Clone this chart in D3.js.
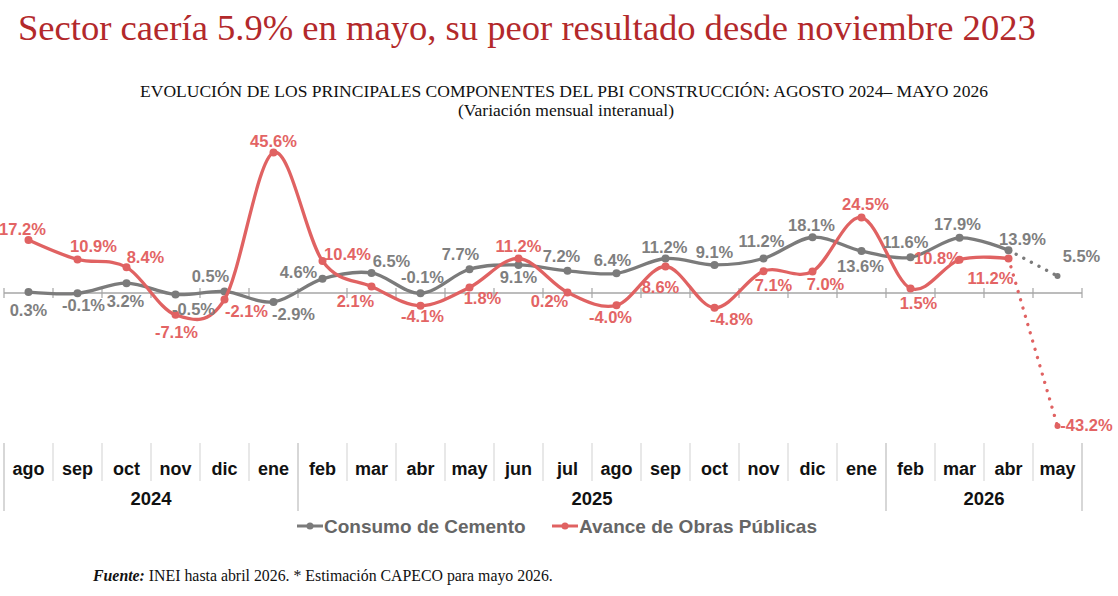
<!DOCTYPE html>
<html>
<head>
<meta charset="utf-8">
<script src="https://cdn.jsdelivr.net/npm/d3@7"></script>
<style>
  body { margin: 0; background: #fff; }
</style>
</head>
<body>
<script>
// months shown under the chart, with the year group each one falls in
var months = ["ago","sep","oct","nov","dic","ene","feb","mar","abr","may","jun","jul",
              "ago","sep","oct","nov","dic","ene","feb","mar","abr","may"];
var years = ["2024","2024","2024","2024","2024","2024",
             "2025","2025","2025","2025","2025","2025","2025","2025","2025","2025","2025","2025",
             "2026","2026","2026","2026"];

// % variation, last value of each is the CAPECO estimate (dotted)
var cemento = [0.3,-0.1,3.2,-0.5,0.5,-2.9,4.6,6.5,-0.1,7.7,9.1,7.2,6.4,11.2,9.1,11.2,18.1,13.6,11.6,17.9,13.9,5.5];
var obras = [17.2,10.9,8.4,-7.1,-2.1,45.6,10.4,2.1,-4.1,1.8,11.2,0.2,-4.0,8.6,-4.8,7.1,7.0,24.5,1.5,10.8,11.2,-43.2];

var seriesNames = ["Consumo de Cemento", "Avance de Obras Públicas"];

// label nudges [dx, dy] relative to each point
var cementoLabelOff = [[0,24],[6,18],[-1,24],[18,20],[-14,-9],[20,18],[-24,-1],[20,-6],[2,-10],[-9,-9],[0,18],[-6,-9],
                       [-4,-7],[-1,-6],[0,-7],[-2,-12],[-1,-6],[-1,21],[-5,-9],[-2,-8],[14,-5],[24,-14]];
var obrasLabelOff = [[-6,-5],[16,-7],[19,-4],[1,23],[22,18],[0,-6],[25,-1],[-16,20],[2,16],[13,17],[0,-7],[-18,15],
                     [-6,18],[-5,26],[17,17],[10,20],[13,19],[4,-8],[8,21],[-22,4],[-18,25],[29,5]];

var W = 1118, H = 596;
var gray = "#7b7b7b", red = "#e06262";
var grayText = "#7f7f7f", redText = "#e36464";

var svg = d3.select("body").append("svg")
  .attr("width", W)
  .attr("height", H)
  .style("font-family", "'Liberation Sans', Arial, sans-serif");

function fitText(sel, target) {
  var len = sel.node().getComputedTextLength();
  var fs = parseFloat(sel.attr("font-size"));
  sel.attr("font-size", (fs * target / len).toFixed(2));
}

// titles
var title = svg.append("text")
  .attr("x", 18).attr("y", 40)
  .attr("font-family", "'Liberation Serif', 'Times New Roman', serif")
  .attr("font-size", 36)
  .attr("fill", "#b3292b")
  .text("Sector caería 5.9% en mayo, su peor resultado desde noviembre 2023");
fitText(title, 1018);

var sub1 = svg.append("text")
  .attr("x", 564).attr("y", 97)
  .attr("text-anchor", "middle")
  .attr("font-family", "'Liberation Serif', 'Times New Roman', serif")
  .attr("font-size", 14)
  .attr("fill", "#111")
  .text("EVOLUCIÓN DE LOS PRINCIPALES COMPONENTES DEL PBI CONSTRUCCIÓN: AGOSTO 2024– MAYO 2026");
fitText(sub1, 848);

svg.append("text")
  .attr("x", 566).attr("y", 116)
  .attr("text-anchor", "middle")
  .attr("font-family", "'Liberation Serif', 'Times New Roman', serif")
  .attr("font-size", sub1.attr("font-size"))
  .attr("fill", "#111")
  .text("(Variación mensual interanual)");

// scales
var x = d3.scaleBand()
  .domain(d3.range(months.length))
  .range([4, 1082]);
var bw = x.bandwidth();
var cx = function(i) { return x(i) + bw / 2; };

var y = d3.scaleLinear()
  .domain([-50, 50])
  .range([447, 139]);

// zero axis with ticks at band edges
var y0 = y(0);
svg.append("line")
  .attr("x1", x.range()[0]).attr("x2", x.range()[1])
  .attr("y1", y0).attr("y2", y0)
  .attr("stroke", "#a6a6a6").attr("stroke-width", 1.5);

var edges = d3.range(months.length + 1).map(function(i) { return x.range()[0] + i * bw; });
svg.selectAll(".tick")
  .data(edges)
  .enter().append("line")
  .attr("class", "tick")
  .attr("x1", function(d) { return d; }).attr("x2", function(d) { return d; })
  .attr("y1", y0 - 5).attr("y2", y0 + 5)
  .attr("stroke", "#a6a6a6").attr("stroke-width", 1.2);

// lines
var line = d3.line()
  .x(function(d) { return cx(d.i); })
  .y(function(d) { return y(d.v); })
  .curve(d3.curveCatmullRom.alpha(0));

function drawSeries(vals, color) {
  var pts = vals.map(function(v, i) { return {i: i, v: v}; });
  var n = pts.length;
  svg.append("path")
    .datum(pts.slice(0, n - 1))
    .attr("d", line)
    .attr("fill", "none")
    .attr("stroke", color)
    .attr("stroke-width", 3.3);
  svg.append("path")
    .datum(pts.slice(n - 2))
    .attr("d", d3.line().x(function(d) { return cx(d.i); }).y(function(d) { return y(d.v); }))
    .attr("fill", "none")
    .attr("stroke", color)
    .attr("stroke-width", 3.3)
    .attr("stroke-linecap", "round")
    .attr("stroke-dasharray", "0.1 8.5");
  svg.append("g").selectAll("circle")
    .data(pts)
    .enter().append("circle")
    .attr("cx", function(d) { return cx(d.i); })
    .attr("cy", function(d) { return y(d.v); })
    .attr("r", function(d) { return d.i === n - 1 ? 3 : 4; })
    .attr("fill", color);
}
drawSeries(cemento, gray);
drawSeries(obras, red);

function drawLabels(vals, offs, color) {
  svg.append("g").selectAll("text")
    .data(vals)
    .enter().append("text")
    .attr("x", function(d, i) { return cx(i) + offs[i][0]; })
    .attr("y", function(d, i) { return y(d) + offs[i][1]; })
    .attr("text-anchor", "middle")
    .attr("font-size", 16.5)
    .attr("font-weight", "bold")
    .attr("fill", color)
    .text(function(d) { return d.toFixed(1) + "%"; });
}
drawLabels(cemento, cementoLabelOff, grayText);
drawLabels(obras, obrasLabelOff, redText);

// category table under the chart
var tableTop = 443, monthBottom = 481, yearBottom = 511;
var yearStarts = edges.filter(function(d, i) {
  return i === 0 || i === months.length || years[i] !== years[i - 1];
});

svg.selectAll(".sep")
  .data(edges)
  .enter().append("line")
  .attr("class", "sep")
  .attr("x1", function(d) { return d; }).attr("x2", function(d) { return d; })
  .attr("y1", tableTop)
  .attr("y2", function(d) { return yearStarts.indexOf(d) >= 0 ? yearBottom : monthBottom; })
  .attr("stroke", function(d) { return yearStarts.indexOf(d) >= 0 ? "#bdbdbd" : "#d9d9d9"; })
  .attr("stroke-width", 1.2);

svg.selectAll(".month")
  .data(months)
  .enter().append("text")
  .attr("class", "month")
  .attr("x", function(d, i) { return cx(i); })
  .attr("y", 475)
  .attr("text-anchor", "middle")
  .attr("font-size", 18)
  .attr("font-weight", "bold")
  .attr("fill", "#111")
  .text(function(d) { return d; });

var yearGroups = d3.groups(years.map(function(yr, i) { return {yr: yr, i: i}; }), function(d) { return d.yr; });
svg.selectAll(".year")
  .data(yearGroups)
  .enter().append("text")
  .attr("class", "year")
  .attr("x", function(g) {
    var first = g[1][0].i, last = g[1][g[1].length - 1].i;
    return (x(first) + x(last) + bw) / 2;
  })
  .attr("y", 505)
  .attr("text-anchor", "middle")
  .attr("font-size", 18.5)
  .attr("font-weight", "bold")
  .attr("fill", "#111")
  .text(function(g) { return g[0]; });

// legend
var legend = [{name: seriesNames[0], color: gray, x: 297}, {name: seriesNames[1], color: red, x: 552}];
var lg = svg.selectAll(".legend")
  .data(legend)
  .enter().append("g")
  .attr("class", "legend")
  .attr("transform", function(d) { return "translate(" + d.x + ",526)"; });
lg.append("line")
  .attr("x1", 0).attr("x2", 26)
  .attr("stroke", function(d) { return d.color; })
  .attr("stroke-width", 3);
lg.append("circle")
  .attr("cx", 13).attr("r", 3.5)
  .attr("fill", function(d) { return d.color; });
lg.append("text")
  .attr("x", 27).attr("y", 7)
  .attr("font-size", 19)
  .attr("font-weight", "bold")
  .attr("fill", "#666")
  .text(function(d) { return d.name; });

// source note
var foot = svg.append("text")
  .attr("x", 93).attr("y", 581)
  .attr("font-family", "'Liberation Serif', 'Times New Roman', serif")
  .attr("font-size", 14)
  .attr("fill", "#111");
foot.append("tspan")
  .attr("font-weight", "bold")
  .attr("font-style", "italic")
  .text("Fuente:");
foot.append("tspan")
  .text(" INEI hasta abril 2026. * Estimación CAPECO para mayo 2026.");
fitText(foot, 460);
</script>
</body>
</html>
